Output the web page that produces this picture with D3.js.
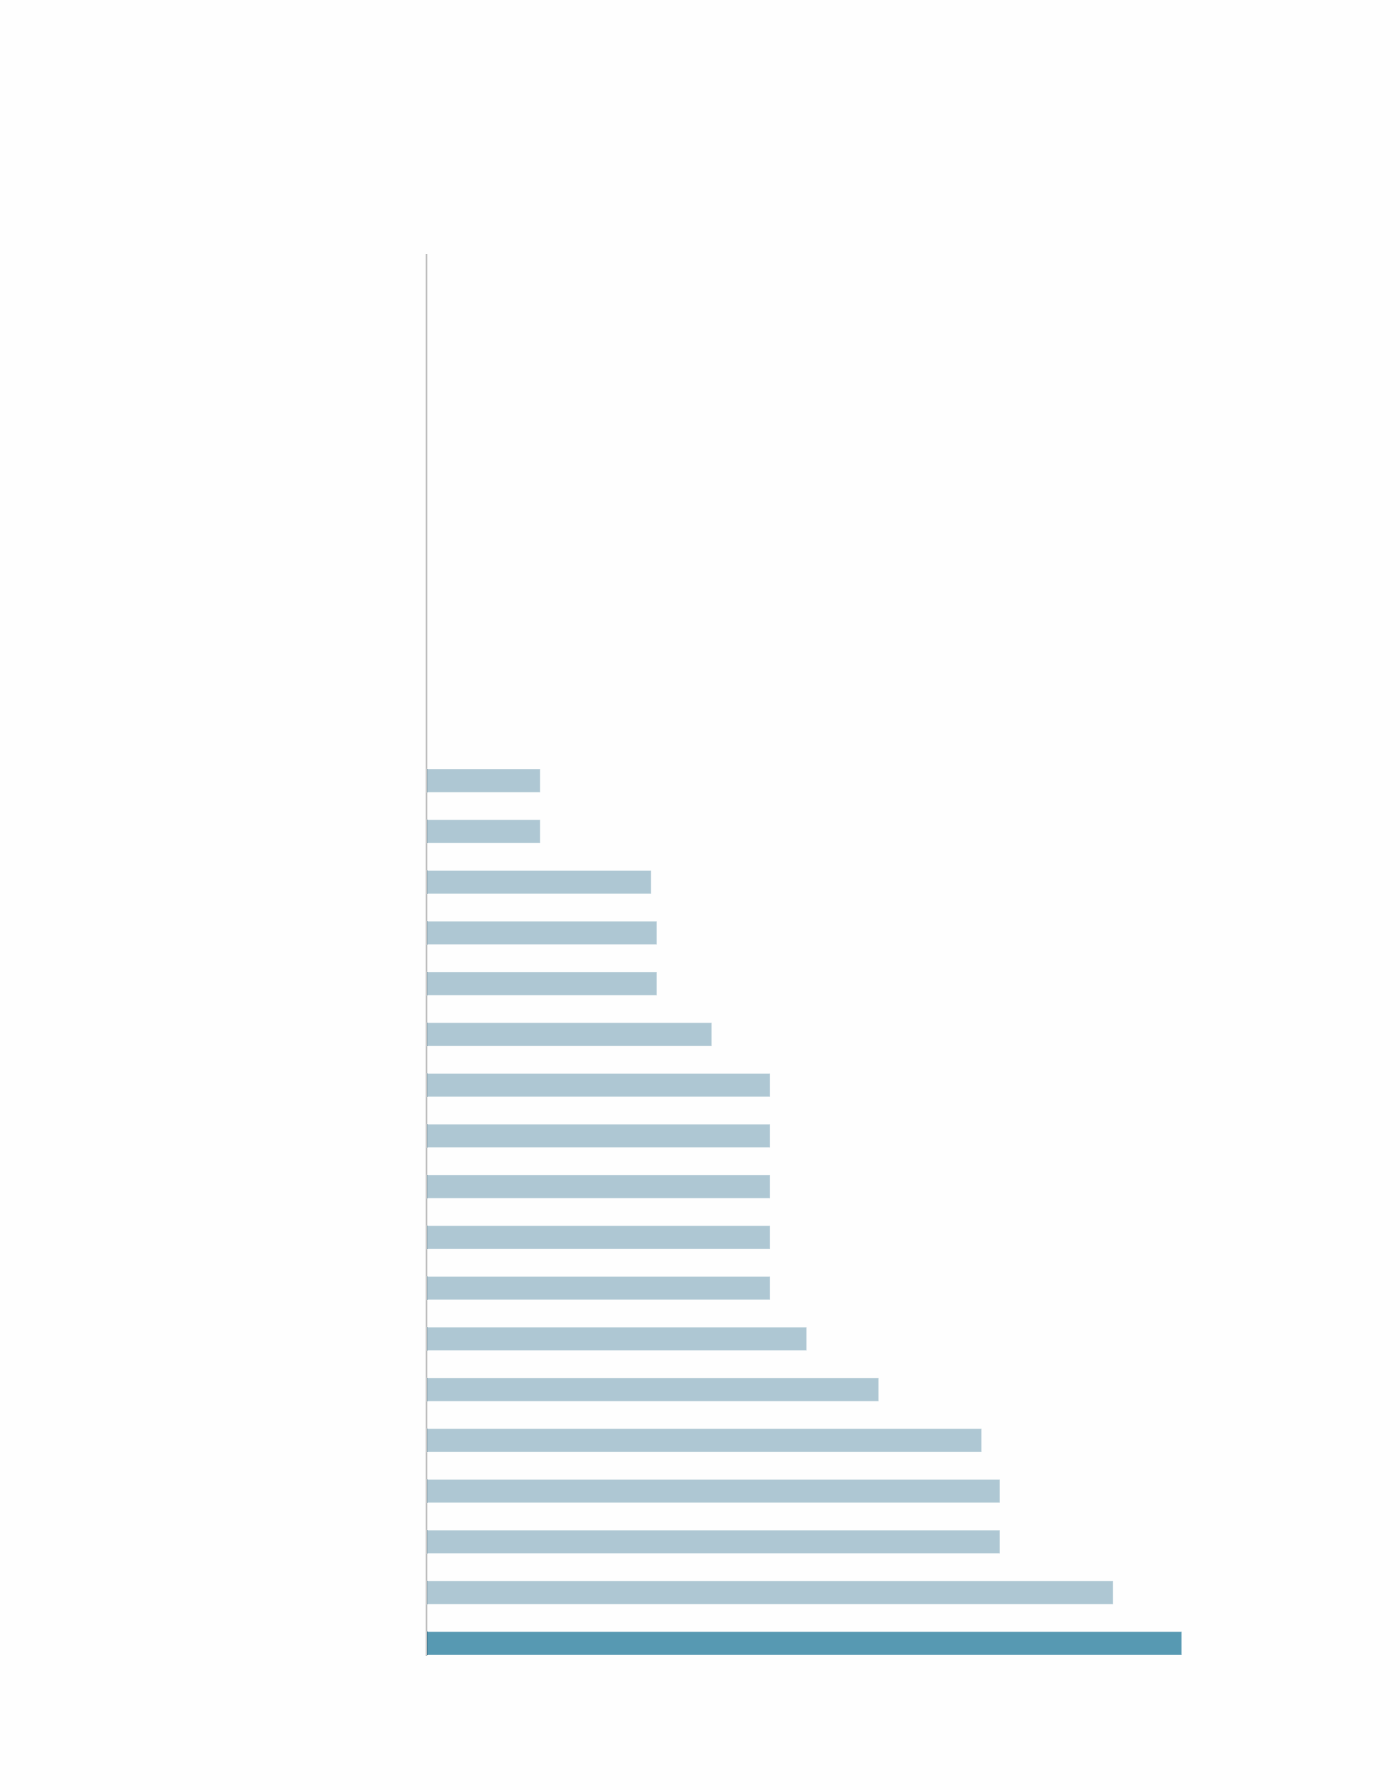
<!DOCTYPE html>
<html>
<head>
<meta charset="utf-8">
<script src="https://cdn.jsdelivr.net/npm/d3@7"></script>
<style>
  html, body { margin: 0; padding: 0; background: #fefefe; }
  svg { display: block; }
</style>
</head>
<body>
<svg id="chart" width="1400" height="1790"></svg>
<script>
// Data (no labels are shown in the reference; categories are ordinal ids)
const categories = ["c1","c2","c3","c4","c5","c6","c7","c8","c9","c10","c11","c12","c13","c14","c15","c16","c17","c18"];
const values = [9.9, 9.9, 19.6, 20.1, 20.1, 24.9, 30, 30, 30, 30, 30, 33.2, 39.5, 48.5, 50.1, 50.1, 60, 66];
const highlighted = ["c18"];

const data = categories.map((c, i) => ({ cat: c, value: values[i] }));

const svg = d3.select("#chart");

const x = d3.scaleLinear().domain([0, 66]).range([427, 1181.7]);
const y = d3.scaleBand().domain(categories).range([769, 1655]).paddingInner(0.54).paddingOuter(0);

// vertical baseline axis
svg.append("line")
  .attr("x1", 426.5).attr("x2", 426.5)
  .attr("y1", 254).attr("y2", 1656)
  .attr("stroke", "#bdbdbd")
  .attr("stroke-width", 1.6);

svg.append("g").selectAll("rect")
  .data(data)
  .join("rect")
  .attr("x", x(0))
  .attr("y", d => y(d.cat))
  .attr("width", d => x(d.value) - x(0))
  .attr("height", y.bandwidth())
  .attr("fill", d => highlighted.includes(d.cat) ? "#5799b2" : "#aec7d3")
  .attr("stroke", "#ffffff")
  .attr("stroke-opacity", 0.35)
  .attr("stroke-width", 1);

// subtle left edge where bars meet the axis
svg.append("g").selectAll("line")
  .data(data)
  .join("line")
  .attr("x1", x(0) + 0.5).attr("x2", x(0) + 0.5)
  .attr("y1", d => y(d.cat))
  .attr("y2", d => y(d.cat) + y.bandwidth())
  .attr("stroke", d => highlighted.includes(d.cat) ? "#4a8299" : "#9db4bf")
  .attr("stroke-width", 1);
</script>
</body>
</html>
